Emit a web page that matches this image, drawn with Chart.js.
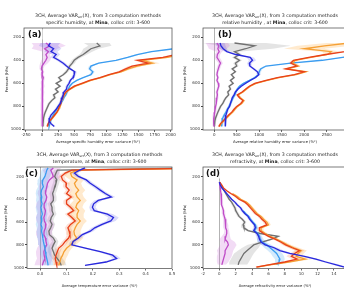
<!DOCTYPE html>
<html>
<head>
<meta charset="utf-8">
<script src="https://cdn.jsdelivr.net/npm/chart.js@4/dist/chart.umd.min.js"></script>
<style>
    html, body { margin: 0; padding: 0; background: #fff; overflow: hidden; width: 344px; height: 288px; }
    canvas { position: absolute; }
</style>
</head>
<body>
<canvas id="chartA" width="180" height="144" style="left:0;top:0"></canvas>
<canvas id="chartB" width="180" height="144" style="left:172px;top:0"></canvas>
<canvas id="chartC" width="180" height="144" style="left:0;top:144px"></canvas>
<canvas id="chartD" width="180" height="144" style="left:172px;top:144px"></canvas>
<script>
// pressure levels (hPa)
const presAB = [250, 275, 300, 325, 350, 375, 400, 425, 450, 475, 500, 525, 550, 575, 600, 625, 650, 675, 700, 725, 750, 775, 800, 825, 850, 875, 900, 925, 950, 975];
const presC = [125, 145, 170, 200, 230, 260, 290, 320, 350, 380, 410, 440, 470, 500, 530, 560, 590, 620, 650, 680, 710, 740, 770, 800, 830, 860, 890, 920, 950, 980];
const presD = [250, 275, 300, 325, 350, 375, 400, 425, 450, 475, 500, 525, 550, 575, 600, 625, 650, 675, 700, 725, 750, 775, 800, 825, 850, 875, 900, 925, 950, 975, 995];

// tick labels
const yTicks = [200, 400, 600, 800, 1000];
const xTicksA = [-250, 0, 250, 500, 750, 1000, 1250, 1500, 1750, 2000];
const xTicksB = [0, 500, 1000, 1500, 2000, 2500];
const xTicksC = [0.0, 0.1, 0.2, 0.3, 0.4, 0.5];
const xTicksD = [-2, 0, 2, 4, 6, 8, 10, 12, 14];

// (a) specific humidity
const shRed = [null, null, 2500, 2250, 2080, 1880, 1480, 1650, 1400, 1300,
    1200, 1040, 900, 740, 620, 500, 430, 370, 340, 320,
    300, 290, 270, 255, 230, 195, 160, 120, 95, 80];
const shRedSpread = [0, 0, 60, 60, 60, 60, 60, 80, 60, 50,
    40, 30, 30, 30, 25, 25, 25, 20, 20, 20,
    20, 20, 20, 20, 20, 20, 20, 20, 20, 20];
const shOrange = [null, null, 2600, 2350, 2150, 1950, 1560, 1720, 1480, 1340,
    1230, 1060, 920, 760, 640, 520, 440, 380, 350, 330,
    305, 295, 275, 260, 235, 200, 165, 125, 100, 85];
const shOrangeSpread = [0, 0, 80, 80, 80, 80, 90, 110, 80, 60,
    40, 30, 30, 30, 25, 25, 25, 20, 20, 20,
    20, 20, 20, 20, 20, 20, 20, 20, 20, 20];
const shLightBlue = [null, 2400, 2050, 1700, 1480, 1330, 1150, 880, 760, 740,
    790, 760, 640, 540, 470, 430, 410, 390, 370, 340,
    320, 290, 255, 230, 200, 175, 150, 135, 120, 110];
const shLightBlueSpread = [0, 60, 50, 40, 40, 40, 35, 30, 30, 30,
    30, 25, 20, 20, 20, 20, 20, 20, 20, 20,
    20, 20, 20, 20, 20, 20, 20, 20, 20, 20];
const shBlue = [130, 100, 180, 140, 220, 180, 260, 330, 380, 440,
    510, 500, 480, 440, 420, 390, 380, 340, 330, 310,
    300, 280, 250, 220, 180, 140, 120, 110, 140, 190];
const shBlueSpread = [150, 150, 120, 100, 60, 50, 40, 40, 30, 30,
    30, 30, 25, 25, 25, 25, 25, 25, 25, 25,
    25, 25, 25, 25, 25, 25, 25, 25, 25, 25];
const shGray = [850, 900, 760, 700, 640, 560, 500, 470, 430, 410,
    380, 330, 260, 300, 220, 280, 210, 250, 180, 200,
    150, 110, 90, 70, 50, 35, 25, 20, 15, 15];
const shGraySpread = [200, 180, 120, 80, 60, 50, 40, 40, 30, 30,
    30, 30, 25, 25, 25, 25, 25, 25, 25, 25,
    25, 25, 20, 20, 20, 20, 20, 20, 20, 20];
const shMagenta = [60, 120, 40, 100, 60, 80, 60, 30, 0, -10,
    10, 0, 20, 10, 5, 15, 0, 10, 5, 0,
    10, 0, 5, 0, 10, 5, 0, 5, 0, 5];
const shMagentaSpread = [220, 250, 200, 80, 60, 60, 70, 60, 40, 30,
    25, 25, 25, 25, 25, 25, 25, 25, 25, 25,
    25, 25, 25, 25, 25, 25, 25, 25, 25, 25];

// (b) relative humidity
const rhRed = [null, 3400, 3100, 2900, 2480, 2100, 1760, 1700, 1830, 1580,
    2000, 1780, 1400, 1150, 900, 780, 700, 620, 510, 560,
    640, 590, 500, 440, 390, 320, 260, 200, 140, 100];
const rhRedSpread = [0, 80, 60, 60, 50, 50, 50, 60, 60, 60,
    60, 50, 40, 40, 30, 30, 30, 30, 30, 30,
    30, 30, 30, 30, 30, 30, 30, 30, 30, 30];
const rhOrange = [3000, 2450, 2000, 2600, 2520, 2150, 1800, 1740, 1870, 1620,
    2040, 1820, 1440, 1180, 930, 800, 720, 640, 530, 580,
    660, 610, 520, 460, 410, 340, 280, 215, 155, 115];
const rhOrangeSpread = [500, 600, 450, 200, 80, 60, 60, 60, 60, 50,
    50, 40, 40, 30, 30, 30, 30, 30, 30, 30,
    30, 30, 30, 30, 30, 30, 30, 30, 30, 30];
const rhLightBlue = [null, null, null, null, 3300, 2850, 2400, 1700, 1150, 1030,
    1000, 980, 900, 780, 650, 560, 510, 480, 460, 420,
    390, 360, 330, 290, 260, 220, 190, 175, 170, 165];
const rhLightBlueSpread = [0, 0, 0, 0, 60, 60, 60, 50, 50, 40,
    40, 40, 30, 30, 30, 30, 30, 30, 30, 30,
    30, 30, 30, 30, 30, 30, 30, 30, 30, 30];
const rhBlue = [130, 150, 200, 280, 480, 800, 850, 780, 790, 880,
    960, 990, 920, 800, 700, 600, 530, 470, 440, 400,
    380, 360, 340, 300, 280, 260, 250, 245, 245, 245];
const rhBlueSpread = [100, 100, 80, 50, 50, 80, 80, 50, 40, 40,
    40, 40, 30, 30, 30, 30, 30, 30, 30, 30,
    30, 30, 30, 30, 30, 30, 30, 30, 30, 30];
const rhGray = [450, 900, 700, 450, 560, 450, 560, 470, 500, 400,
    470, 380, 440, 360, 420, 330, 360, 300, 320, 260,
    220, 190, 140, 110, 80, 55, 30, 15, 5, 0];
const rhGraySpread = [700, 800, 600, 80, 60, 60, 60, 50, 40, 40,
    30, 30, 30, 30, 30, 30, 30, 30, 30, 30,
    30, 30, 30, 30, 30, 30, 30, 30, 30, 30];
const rhMagenta = [60, 100, 80, 110, 70, 60, 100, 140, 110, 90,
    70, 60, 80, 60, 90, 100, 80, 60, 70, 60,
    50, 40, 30, 20, 10, 0, -10, -15, -10, 0];
const rhMagentaSpread = [250, 250, 200, 60, 60, 60, 60, 50, 40, 40,
    30, 30, 30, 30, 30, 30, 30, 30, 30, 30,
    30, 30, 30, 30, 30, 30, 30, 30, 30, 30];

// (c) temperature
const tBlue = [0.17, 0.15, 0.13, 0.145, 0.175, 0.19, 0.21, 0.228, 0.247, 0.27,
    0.22, 0.203, 0.198, 0.205, 0.255, 0.278, 0.268, 0.235, 0.207, 0.19,
    0.16, 0.145, 0.125, 0.12, 0.175, 0.228, 0.275, 0.29, 0.25, 0.17];
const tBlueSpread = [0.01, 0.012, 0.012, 0.012, 0.012, 0.012, 0.012, 0.012, 0.012, 0.015,
    0.015, 0.012, 0.012, 0.015, 0.02, 0.02, 0.018, 0.015, 0.012, 0.012,
    0.012, 0.012, 0.012, 0.012, 0.012, 0.012, 0.015, 0.015, 0.012, 0.01];
const tRed = [0.7, 0.12, 0.095, 0.08, 0.085, 0.1, 0.098, 0.11, 0.1, 0.118,
    0.1, 0.1, 0.115, 0.127, 0.105, 0.12, 0.133, 0.115, 0.105, 0.11,
    0.113, 0.108, 0.095, 0.085, 0.07, 0.065, 0.06, 0.057, 0.06, 0.063];
const tRedSpread = [0.02, 0.012, 0.012, 0.012, 0.012, 0.012, 0.012, 0.012, 0.012, 0.012,
    0.012, 0.012, 0.012, 0.012, 0.012, 0.012, 0.012, 0.012, 0.012, 0.012,
    0.012, 0.012, 0.012, 0.012, 0.012, 0.012, 0.012, 0.012, 0.012, 0.012];
const tOrange = [0.8, 0.14, 0.115, 0.12, 0.14, 0.13, 0.135, 0.146, 0.135, 0.14,
    0.152, 0.14, 0.135, 0.146, 0.14, 0.14, 0.152, 0.14, 0.133, 0.128,
    0.13, 0.139, 0.125, 0.115, 0.1, 0.09, 0.085, 0.078, 0.075, 0.07];
const tOrangeSpread = [0.03, 0.025, 0.025, 0.025, 0.025, 0.025, 0.025, 0.025, 0.025, 0.025,
    0.025, 0.025, 0.025, 0.025, 0.025, 0.025, 0.025, 0.025, 0.025, 0.025,
    0.025, 0.025, 0.025, 0.02, 0.02, 0.02, 0.02, 0.02, 0.02, 0.02];
const tGray = [0.6, 0.065, 0.06, 0.055, 0.063, 0.06, 0.055, 0.052, 0.047, 0.05,
    0.05, 0.04, 0.045, 0.045, 0.05, 0.042, 0.038, 0.045, 0.04, 0.033,
    0.035, 0.05, 0.057, 0.05, 0.045, 0.05, 0.055, 0.065, 0.075, 0.08];
const tGraySpread = [0.02, 0.012, 0.012, 0.012, 0.012, 0.012, 0.012, 0.012, 0.012, 0.012,
    0.012, 0.012, 0.012, 0.012, 0.012, 0.012, 0.012, 0.012, 0.012, 0.012,
    0.012, 0.012, 0.012, 0.015, 0.015, 0.02, 0.02, 0.02, 0.02, 0.02];
const tLightBlue = [0.03, 0.025, 0.022, 0.018, 0.01, 0.008, 0.012, 0.005, 0.003, 0.006,
    0.004, 0.007, 0.003, 0.005, 0.008, 0.004, 0.006, 0.003, 0.007, 0.005,
    0.008, 0.01, 0.012, 0.015, 0.018, 0.02, 0.022, 0.025, 0.028, 0.03];
const tLightBlueSpread = [0.02, 0.02, 0.02, 0.02, 0.02, 0.02, 0.02, 0.02, 0.02, 0.02,
    0.02, 0.02, 0.02, 0.02, 0.02, 0.02, 0.02, 0.02, 0.02, 0.02,
    0.02, 0.02, 0.02, 0.02, 0.02, 0.02, 0.02, 0.02, 0.02, 0.02];
const tViolet = [0.05, 0.04, 0.045, 0.05, 0.035, 0.028, 0.025, 0.022, 0.02, 0.025,
    0.022, 0.015, 0.015, 0.02, 0.018, 0.014, 0.016, 0.022, 0.02, 0.015,
    0.014, 0.02, 0.022, 0.025, 0.018, 0.014, 0.015, 0.018, 0.012, 0.008];
const tVioletSpread = [0.03, 0.03, 0.03, 0.03, 0.03, 0.03, 0.03, 0.03, 0.03, 0.03,
    0.03, 0.03, 0.03, 0.03, 0.03, 0.03, 0.03, 0.03, 0.03, 0.03,
    0.03, 0.03, 0.03, 0.03, 0.03, 0.03, 0.03, 0.03, 0.03, 0.03];

// (d) refractivity
const dRed = [0.05, 0.3, 0.5, 0.9, 1.4, 2.0, 2.4, 3.1, 3.5, 3.8,
    4.1, 4.4, 4.9, 5.2, 5.6, 5.8, 4.9, 4.9, 5.4, 6.0,
    6.8, 7.5, 8.1, 8.9, 9.8, 9.2, 8.8, 9.5, 8.0, 6.0, 4.5];
const dRedSpread = [0.05, 0.1, 0.1, 0.15, 0.2, 0.2, 0.2, 0.2, 0.2, 0.2,
    0.2, 0.25, 0.25, 0.25, 0.3, 0.3, 0.3, 0.3, 0.3, 0.3,
    0.3, 0.3, 0.4, 0.5, 0.6, 0.6, 0.6, 0.6, 0.5, 0.4, 0.3];
const dOrange = [null, null, null, null, 1.6, 2.2, 2.6, 3.3, 3.7, 4.0,
    4.3, 4.6, 5.1, 5.4, 5.8, 6.0, 5.1, 5.1, 5.6, 6.2,
    7.0, 7.7, 8.3, 9.1, 10.0, 9.6, 9.4, 10.5, 8.5, 6.2, 4.6];
const dOrangeSpread = [0, 0, 0, 0, 0.2, 0.2, 0.2, 0.2, 0.2, 0.2,
    0.2, 0.2, 0.25, 0.25, 0.3, 0.3, 0.3, 0.3, 0.3, 0.3,
    0.3, 0.4, 0.5, 0.6, 0.7, 0.7, 0.7, 0.8, 0.6, 0.5, 0.4];
const dBlue = [0, 0.1, 0.3, 0.6, 0.9, 1.2, 1.5, 1.9, 2.2, 2.6,
    2.8, 3.1, 3.5, 3.7, 4.0, 4.3, 4.4, 4.2, 4.6, 4.8,
    4.9, 5.1, 5.6, 6.7, 7.4, 8.6, 10.4, 11.8, 13.0, 14.3, 15.3];
const dBlueSpread = [0.05, 0.1, 0.1, 0.1, 0.15, 0.15, 0.15, 0.2, 0.2, 0.2,
    0.2, 0.2, 0.2, 0.2, 0.2, 0.2, 0.25, 0.25, 0.25, 0.3,
    0.3, 0.35, 0.4, 0.45, 0.45, 0.4, 0.4, 0.4, 0.4, 0.4, 0.4];
const dLightBlue = [null, null, null, null, null, null, null, null, null, null,
    2.9, 3.2, 3.6, 3.8, 4.1, 4.4, 4.5, 4.3, 4.7, 4.9,
    5.0, 5.2, 5.8, 6.2, 6.6, 7.0, 7.2, 7.4, 7.3, 7.0, null];
const dLightBlueSpread = [0, 0, 0, 0, 0, 0, 0, 0, 0, 0,
    0.2, 0.2, 0.2, 0.2, 0.2, 0.25, 0.25, 0.25, 0.3, 0.3,
    0.4, 0.5, 0.6, 0.7, 0.7, 0.7, 0.7, 0.6, 0.5, 0.4, 0];
const dGray = [0.05, 0.2, 0.4, 0.6, 0.8, 1.0, 1.2, 1.5, 1.7, 1.9,
    2.0, 2.2, 2.4, 2.8, 3.1, 2.9, 3.0, 3.5, 5.0, 7.2,
    6.4, 5.2, 4.2, 3.8, 3.4, 3.0, 2.8, 2.6, 2.4, 2.3, null];
const dGraySpread = [0.05, 0.1, 0.1, 0.1, 0.15, 0.15, 0.15, 0.15, 0.2, 0.2,
    0.2, 0.2, 0.2, 0.2, 0.2, 0.25, 0.25, 0.25, 0.3, 0.3,
    0.3, 0.5, 0.8, 1.0, 1.1, 1.2, 1.2, 1.2, 1.2, 1.1, 0];
const dMagenta = [0, 0.05, 0.1, 0.15, 0.2, 0.2, 0.25, 0.3, 0.3, 0.4,
    0.5, 0.5, 0.6, 0.7, 0.7, 0.8, 0.8, 0.9, 0.9, 0.8,
    0.7, 1.0, 1.1, 0.9, 0.7, 0.7, 0.6, 0.5, 0.4, 0.3, null];
const dMagentaSpread = [0.05, 0.05, 0.1, 0.1, 0.1, 0.1, 0.15, 0.15, 0.15, 0.15,
    0.2, 0.2, 0.2, 0.25, 0.25, 0.3, 0.3, 0.3, 0.35, 0.5,
    0.7, 0.9, 1.0, 1.0, 1.0, 0.9, 0.9, 0.8, 0.7, 0.5, 0];

const colors = {
    red: ['#e8401a', 'rgba(240,90,40,0.18)'],
    orange: ['#f5a035', 'rgba(255,170,60,0.25)'],
    lightBlue: ['#3a9cf0', 'rgba(60,160,240,0.22)'],
    blue: ['#2828dc', 'rgba(90,90,230,0.22)'],
    gray: ['#707070', 'rgba(130,130,130,0.22)'],
    magenta: ['#c04cc8', 'rgba(205,110,215,0.25)']
};

const FONT = '"DejaVu Sans", sans-serif';

function makeSeries(pres, vals, spread, color, order) {
    const line = [], up = [], lo = [];
    pres.forEach((p, i) => {
        if (vals[i] === null) return;
        line.push({x: vals[i], y: p});
        up.push({x: vals[i] + spread[i], y: p});
        lo.push({x: vals[i] - spread[i], y: p});
    });
    return {
        bands: [
            {data: up, borderWidth: 0, pointRadius: 0, fill: '+1', backgroundColor: colors[color][1], order: 10},
            {data: lo, borderWidth: 0, pointRadius: 0, fill: false, order: 10}
        ],
        line: {data: line, borderColor: colors[color][0], borderWidth: 1.3, pointRadius: 0, fill: false, order: order}
    };
}

function drawParts(ctx, parts, cx, y) {
    let total = 0;
    parts.forEach(p => {
        ctx.font = p.weight + ' ' + p.size + 'px ' + FONT;
        p.w = ctx.measureText(p.text).width;
        total += p.w;
    });
    let x = cx - total / 2;
    parts.forEach(p => {
        ctx.font = p.weight + ' ' + p.size + 'px ' + FONT;
        ctx.fillText(p.text, x, y + p.dy);
        x += p.w;
    });
}

const headPlugin = {
    id: 'head',
    afterDraw(chart, args, opts) {
        const {ctx, chartArea: a} = chart;
        const cx = (a.left + a.right) / 2;
        ctx.save();
        ctx.fillStyle = '#222';
        ctx.textBaseline = 'middle';
        ctx.textAlign = 'left';
        drawParts(ctx, [
            {text: '3CH, Average VAR', size: 4.7, dy: 0, weight: 'normal'},
            {text: 'err', size: 3.3, dy: 1.2, weight: 'normal'},
            {text: '(X), from 3 computation methods', size: 4.7, dy: 0, weight: 'normal'}
        ], cx, a.top - 12);
        drawParts(ctx, [
            {text: opts.quantity + ', at ', size: 4.7, dy: 0, weight: 'normal'},
            {text: 'Mina', size: 4.7, dy: 0, weight: 'bold'},
            {text: ', colloc crit: 3-600', size: 4.7, dy: 0, weight: 'normal'}
        ], cx, a.top - 5.5);

        ctx.strokeStyle = '#444';
        ctx.lineWidth = 0.7;
        ctx.strokeRect(a.left, a.top, a.right - a.left, a.bottom - a.top);

        ctx.font = 'bold 8.5px ' + FONT;
        const w = ctx.measureText(opts.label).width;
        ctx.fillStyle = 'rgba(255,255,255,0.85)';
        ctx.fillRect(a.left + opts.labelX - 1, a.top + 1.5, w + 2, 10);
        ctx.fillStyle = '#111';
        ctx.fillText(opts.label, a.left + opts.labelX, a.top + 6.8);
        ctx.restore();
    }
};

function buildChart(id, cfg) {
    const datasets = [];
    cfg.series.forEach(s => datasets.push(...s.bands));
    cfg.series.forEach(s => datasets.push(s.line));

    return new Chart(document.getElementById(id), {
        type: 'line',
        data: {datasets: datasets},
        plugins: [headPlugin],
        options: {
            responsive: false,
            animation: false,
            indexAxis: 'y',
            layout: {autoPadding: false, padding: {top: cfg.top, right: cfg.right, left: cfg.left, bottom: 0}},
            plugins: {
                legend: {display: false},
                tooltip: {enabled: false},
                head: {quantity: cfg.quantity, label: cfg.label, labelX: cfg.labelX}
            },
            scales: {
                x: {
                    type: 'linear',
                    position: 'bottom',
                    min: cfg.xMin,
                    max: cfg.xMax,
                    afterBuildTicks: s => { s.ticks = cfg.xTicks.map(v => ({value: v})); },
                    afterFit: s => {
                        s.height = cfg.xHeight;
                        s.paddingLeft = 0; s.paddingRight = 0;
                    },
                    border: {display: false},
                    grid: {
                        color: c => (c.tick && c.tick.value === 0) ? '#a0a0a0' : 'rgba(0,0,0,0)',
                        lineWidth: 0.8,
                        tickColor: '#444',
                        tickLength: 2
                    },
                    ticks: {
                        font: {family: FONT, size: 4},
                        color: '#333',
                        padding: 1,
                        maxRotation: 0,
                        autoSkip: false,
                        callback: cfg.xFormat
                    },
                    title: {
                        display: true,
                        text: cfg.xTitle,
                        font: {family: FONT, size: 3.7},
                        color: '#222',
                        padding: {top: 1, bottom: 0}
                    }
                },
                y: {
                    type: 'linear',
                    reverse: true,
                    min: cfg.yMin,
                    max: cfg.yMax,
                    afterBuildTicks: s => { s.ticks = yTicks.map(v => ({value: v})); },
                    afterFit: s => {
                        s.width = cfg.yWidth;
                        s.paddingTop = 0; s.paddingBottom = 0;
                    },
                    border: {display: false},
                    grid: {
                        color: 'rgba(0,0,0,0)',
                        tickColor: '#444',
                        tickLength: 2
                    },
                    ticks: {
                        font: {family: FONT, size: 4},
                        color: '#333',
                        padding: 1,
                        autoSkip: false,
                        callback: v => String(v)
                    },
                    title: {
                        display: true,
                        text: 'Pressure (hPa)',
                        font: {family: FONT, size: 3.7},
                        color: '#222',
                        padding: {top: 0, bottom: 1}
                    }
                }
            }
        }
    });
}

buildChart('chartA', {
    quantity: 'specific humidity', label: '(a)', labelX: 4,
    top: 28, right: 8, left: 5, yWidth: 19, xHeight: 14,
    xMin: -280, xMax: 2020, yMin: 120, yMax: 1005,
    xTicks: xTicksA, xFormat: v => String(v),
    xTitle: 'Average specific humidity error variance (%²)',
    series: [
        makeSeries(presAB, shBlue, shBlueSpread, 'blue', 1),
        makeSeries(presAB, shRed, shRedSpread, 'red', 2),
        makeSeries(presAB, shOrange, shOrangeSpread, 'orange', 3),
        makeSeries(presAB, shLightBlue, shLightBlueSpread, 'lightBlue', 3),
        makeSeries(presAB, shMagenta, shMagentaSpread, 'magenta', 4),
        makeSeries(presAB, shGray, shGraySpread, 'gray', 4)
    ]
});

buildChart('chartB', {
    quantity: 'relative humidity ', label: '(b)', labelX: 15,
    top: 28, right: 5, left: 11, yWidth: 20, xHeight: 14,
    xMin: -250, xMax: 2950, yMin: 120, yMax: 1005,
    xTicks: xTicksB, xFormat: v => String(v),
    xTitle: 'Average relative humidity error variance (%²)',
    series: [
        makeSeries(presAB, rhBlue, rhBlueSpread, 'blue', 1),
        makeSeries(presAB, rhRed, rhRedSpread, 'red', 2),
        makeSeries(presAB, rhOrange, rhOrangeSpread, 'orange', 3),
        makeSeries(presAB, rhLightBlue, rhLightBlueSpread, 'lightBlue', 3),
        makeSeries(presAB, rhMagenta, rhMagentaSpread, 'magenta', 4),
        makeSeries(presAB, rhGray, rhGraySpread, 'gray', 4)
    ]
});

buildChart('chartC', {
    quantity: 'temperature', label: '(c)', labelX: -2,
    top: 23, right: 8, left: 4, yWidth: 23, xHeight: 19.5,
    xMin: -0.05, xMax: 0.5, yMin: 117, yMax: 1007,
    xTicks: xTicksC, xFormat: v => v.toFixed(1),
    xTitle: 'Average temperature error variance (%²)',
    series: [
        makeSeries(presC, tBlue, tBlueSpread, 'blue', 1),
        makeSeries(presC, tRed, tRedSpread, 'red', 2),
        makeSeries(presC, tOrange, tOrangeSpread, 'orange', 3),
        makeSeries(presC, tLightBlue, tLightBlueSpread, 'lightBlue', 3),
        makeSeries(presC, tViolet, tVioletSpread, 'magenta', 4),
        makeSeries(presC, tGray, tGraySpread, 'gray', 4)
    ]
});

buildChart('chartD', {
    quantity: 'refractivity', label: '(d)', labelX: 3,
    top: 23, right: 5, left: 11, yWidth: 20, xHeight: 19.5,
    xMin: -2, xMax: 15.6, yMin: 117, yMax: 1007,
    xTicks: xTicksD, xFormat: v => String(v),
    xTitle: 'Average refractivity error variance (%²)',
    series: [
        makeSeries(presD, dBlue, dBlueSpread, 'blue', 1),
        makeSeries(presD, dRed, dRedSpread, 'red', 2),
        makeSeries(presD, dOrange, dOrangeSpread, 'orange', 3),
        makeSeries(presD, dLightBlue, dLightBlueSpread, 'lightBlue', 3),
        makeSeries(presD, dMagenta, dMagentaSpread, 'magenta', 4),
        makeSeries(presD, dGray, dGraySpread, 'gray', 4)
    ]
});
</script>
</body>
</html>
